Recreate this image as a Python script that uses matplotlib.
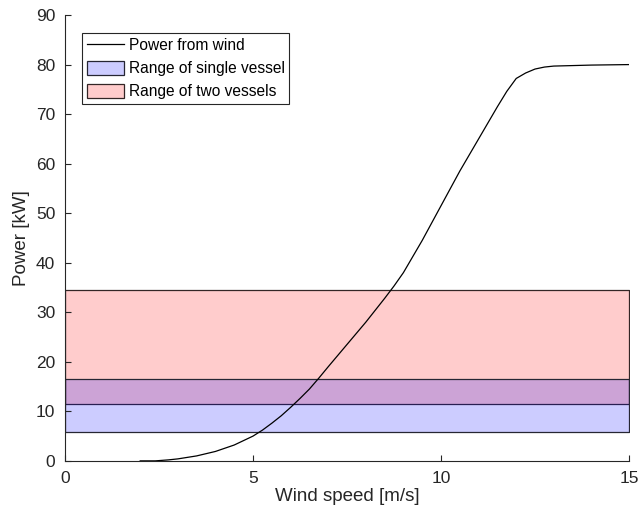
import matplotlib
matplotlib.use("Agg")
import matplotlib.pyplot as plt

# wind turbine power curve
wind = [2.0, 2.4, 2.75, 3, 3.5, 4, 4.5, 5, 5.25, 5.5, 5.75, 6, 6.25, 6.5, 6.75,
        7, 7.5, 8, 8.5, 8.75, 9, 9.5, 10, 10.5, 11, 11.5, 11.75, 12, 12.25,
        12.5, 12.75, 13, 14, 15]
power = [0, 0, 0.2, 0.4, 1.0, 1.9, 3.2, 5.0, 6.2, 7.6, 9.1, 10.8, 12.6, 14.5, 16.7,
         19.0, 23.5, 28.0, 32.8, 35.3, 38.0, 44.5, 51.5, 58.5, 65.0, 71.5, 74.6,
         77.2, 78.3, 79.1, 79.5, 79.7, 79.9, 80.0]

# power demand ranges [kW]
single_vessel = (5.8, 16.5)
two_vessels = (11.4, 34.5)

plt.rcParams['font.family'] = ['Liberation Sans', 'DejaVu Sans']

fig = plt.figure(figsize=(6.41, 5.19), dpi=100)
ax = fig.add_axes([0.1014, 0.112, 0.8799, 0.859])

line, = ax.plot(wind, power, color="black", lw=0.9, zorder=3)
red = ax.fill_between([0, 15], two_vessels[0], two_vessels[1], facecolor=(1, 0, 0, 0.2),
                      edgecolor=(0.2, 0.15, 0.15), lw=0.9)
blue = ax.fill_between([0, 15], single_vessel[0], single_vessel[1], facecolor=(0, 0, 1, 0.2),
                       edgecolor=(0.15, 0.15, 0.2), lw=0.9)

ax.set_xlim(0, 15)
ax.set_ylim(0, 90)
ax.set_xticks([0, 5, 10, 15])
ax.set_yticks(range(0, 91, 10))
ax.spines['top'].set_visible(False)
ax.spines['right'].set_visible(False)
for s in ['left', 'bottom']:
    ax.spines[s].set_color("#262626")
    ax.spines[s].set_linewidth(0.8)
ax.tick_params(direction="in", length=4, width=0.8, colors="#262626",
               labelsize=12.5, pad=7)
ax.set_xlabel("Wind speed [m/s]", fontsize=13.5, color="#262626", labelpad=2)
ax.set_ylabel("Power [kW]", fontsize=13.5, color="#262626", labelpad=4)

leg = ax.legend([line, blue, red],
                ["Power from wind", "Range of single vessel", "Range of two vessels"],
                loc="upper left", bbox_to_anchor=(0.030, 0.96), fontsize=11.2,
                fancybox=False, framealpha=1, edgecolor="#262626",
                borderpad=0.3, handlelength=2.4, handleheight=1.0,
                handletextpad=0.3, labelspacing=0.5, borderaxespad=0)
leg.get_frame().set_linewidth(0.8)

fig.savefig("out.png", dpi=100)
